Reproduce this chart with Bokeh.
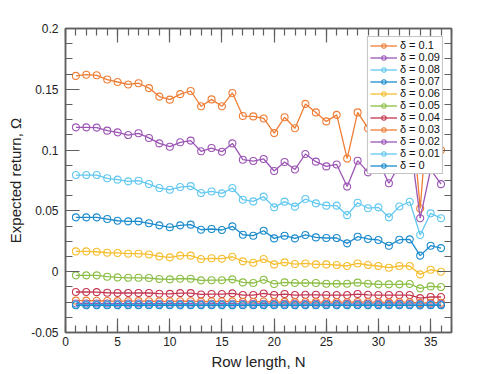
import numpy as np
from bokeh.plotting import figure
from bokeh.models import (Range1d, FixedTicker, LinearAxis, Legend, LegendItem,
                          CustomJSTickFormatter, ColumnDataSource)
from bokeh.embed import file_html
from bokeh.resources import INLINE

# ---------------- data ----------------
row_length = list(range(1, 37))

omega_d010 = [0.161, 0.162, 0.1615, 0.158, 0.156, 0.154, 0.155, 0.151, 0.144, 0.1415, 0.146, 0.1486,
              0.136, 0.1417, 0.136, 0.147, 0.128, 0.1277, 0.126, 0.114, 0.127, 0.118, 0.138, 0.131,
              0.1236, 0.129, 0.093, 0.131, 0.118, 0.112, 0.125, 0.108, 0.150, 0.052, 0.160, 0.100]
omega_d009 = [0.1187, 0.1187, 0.1185, 0.116, 0.1146, 0.1124, 0.1138, 0.110, 0.1055, 0.1028, 0.1064, 0.1078,
              0.099, 0.1017, 0.0987, 0.1055, 0.0921, 0.091, 0.0927, 0.0828, 0.0902, 0.0841, 0.0968, 0.0905,
              0.0866, 0.0882, 0.070, 0.0913, 0.0817, 0.0905, 0.0727, 0.0874, 0.110, 0.044, 0.084, 0.072]
omega_d008 = [0.0795, 0.0795, 0.0795, 0.0768, 0.0757, 0.0743, 0.0748, 0.0721, 0.0688, 0.0674, 0.0696, 0.0704,
              0.0647, 0.066, 0.0644, 0.0688, 0.0592, 0.0578, 0.0617, 0.0529, 0.0576, 0.0535, 0.0598, 0.0562,
              0.0543, 0.0543, 0.0465, 0.0567, 0.0522, 0.0529, 0.0447, 0.0536, 0.0575, 0.0302, 0.048, 0.044]
omega_d007 = [0.0447, 0.0447, 0.0447, 0.0433, 0.0419, 0.0414, 0.0414, 0.0398, 0.0381, 0.0365, 0.0381, 0.0387,
              0.0345, 0.0351, 0.0343, 0.0373, 0.0304, 0.0296, 0.0337, 0.0274, 0.0296, 0.0274, 0.0302, 0.0282,
              0.0277, 0.0277, 0.0233, 0.0288, 0.0269, 0.0261, 0.0214, 0.0263, 0.0266, 0.0132, 0.0214, 0.0194]
omega_d006 = [0.0167, 0.0167, 0.0164, 0.0156, 0.0154, 0.0148, 0.0148, 0.0142, 0.0126, 0.0118, 0.0132, 0.0132,
              0.0104, 0.011, 0.0107, 0.0123, 0.0085, 0.0074, 0.0104, 0.006, 0.0077, 0.0063, 0.0068, 0.006,
              0.006, 0.0055, 0.0047, 0.0068, 0.0055, 0.0047, 0.0033, 0.0047, 0.0047, -0.0022, 0.0016, 0.0]
omega_d005 = [-0.003, -0.003, -0.003, -0.0041, -0.0047, -0.005, -0.005, -0.0052, -0.006, -0.0063, -0.0058, -0.0058,
              -0.0071, -0.007, -0.007, -0.0063, -0.0088, -0.0093, -0.0066, -0.0101, -0.0088, -0.0093, -0.0093, -0.0093,
              -0.0099, -0.0099, -0.0099, -0.009, -0.0099, -0.0104, -0.0104, -0.0104, -0.0101, -0.0137, -0.0121, -0.0126]
omega_d004 = [-0.0167, -0.0167, -0.0168, -0.0173, -0.0175, -0.0175, -0.0175, -0.0175, -0.0181, -0.0182, -0.0176, -0.0176,
              -0.0187, -0.0184, -0.0184, -0.0178, -0.0192, -0.0192, -0.0179, -0.0192, -0.0184, -0.0192, -0.019, -0.019,
              -0.0192, -0.0192, -0.0192, -0.0184, -0.019, -0.0192, -0.0192, -0.0192, -0.0192, -0.0217, -0.0208, -0.0208]
omega_d003 = [-0.0238, -0.0238, -0.0239, -0.0241, -0.0242, -0.0242, -0.0242, -0.0243, -0.0244, -0.0245, -0.0243, -0.0243,
              -0.0246, -0.0245, -0.0245, -0.0244, -0.0248, -0.0249, -0.0245, -0.025, -0.0248, -0.025, -0.0249, -0.025,
              -0.025, -0.025, -0.0251, -0.0249, -0.025, -0.0251, -0.0252, -0.0251, -0.0251, -0.0258, -0.0255, -0.0255]
omega_d002 = [-0.0261, -0.0261, -0.0261, -0.0262, -0.0262, -0.0262, -0.0262, -0.0263, -0.0263, -0.0263, -0.0263, -0.0263,
              -0.0264, -0.0263, -0.0263, -0.0263, -0.0264, -0.0264, -0.0263, -0.0264, -0.0264, -0.0264, -0.0264, -0.0264,
              -0.0264, -0.0264, -0.0265, -0.0264, -0.0264, -0.0265, -0.0265, -0.0265, -0.0265, -0.0267, -0.0266, -0.0266]
omega_d001 = [-0.0270, -0.0270, -0.0270, -0.0270, -0.0271, -0.0271, -0.0271, -0.0271, -0.0271, -0.0271, -0.0271, -0.0271,
              -0.0272, -0.0271, -0.0271, -0.0271, -0.0272, -0.0272, -0.0271, -0.0272, -0.0272, -0.0272, -0.0272, -0.0272,
              -0.0272, -0.0272, -0.0272, -0.0272, -0.0272, -0.0272, -0.0272, -0.0272, -0.0272, -0.0273, -0.0273, -0.0273]
omega_d000 = [-0.0276, -0.0276, -0.0276, -0.0276, -0.0276, -0.0276, -0.0276, -0.0276, -0.0276, -0.0276, -0.0276, -0.0276,
              -0.0276, -0.0276, -0.0276, -0.0276, -0.0276, -0.0276, -0.0276, -0.0276, -0.0276, -0.0276, -0.0276, -0.0276,
              -0.0276, -0.0276, -0.0276, -0.0276, -0.0276, -0.0276, -0.0276, -0.0276, -0.0276, -0.0277, -0.0276, -0.0276]

delta_labels = ["δ = 0.1", "δ = 0.09", "δ = 0.08", "δ = 0.07", "δ = 0.06", "δ = 0.05",
                "δ = 0.04", "δ = 0.03", "δ = 0.02", "δ = 0.01", "δ = 0"]
series = [omega_d010, omega_d009, omega_d008, omega_d007, omega_d006, omega_d005,
          omega_d004, omega_d003, omega_d002, omega_d001, omega_d000]
colors = ["#EE7E36", "#9C55B4", "#62C8F0", "#1C8BCC", "#F6BE30", "#8BBE45",
          "#C43650", "#EE7E36", "#9C55B4", "#62C8F0", "#1C8BCC"]

x_ticks = [0, 5, 10, 15, 20, 25, 30, 35]
x_tick_labels = ["0", "5", "10", "15", "20", "25", "30", "35"]
y_ticks = [-0.05, 0.0, 0.05, 0.1, 0.15, 0.2]
y_tick_labels = ["-0.05", "0", "0.05", "0.1", "0.15", "0.2"]

# ---------------- figure ----------------
FONT = "Liberation Sans"
AX_COL = "#5f5f5f"

p = figure(x_range=Range1d(0, 37), y_range=Range1d(-0.05, 0.2),
           frame_width=386, frame_height=304,
           output_backend="svg", toolbar_location=None,
           min_border_left=65, min_border_top=28, min_border_right=30, min_border_bottom=40)
p.background_fill_color = "white"
p.border_fill_color = "white"
p.xgrid.visible = False
p.ygrid.visible = False
p.outline_line_color = AX_COL
p.outline_line_width = 1.5

x_minor = list(np.arange(0, 38, 1))
y_minor = list(np.linspace(-0.05, 0.2, 21))
xt = FixedTicker(ticks=x_ticks, minor_ticks=x_minor)
yt = FixedTicker(ticks=y_ticks, minor_ticks=y_minor)

def style_axis(ax):
    ax.axis_line_color = AX_COL
    ax.axis_line_width = 1.5
    ax.major_tick_line_color = AX_COL
    ax.minor_tick_line_color = AX_COL
    ax.major_tick_line_width = 1.2
    ax.minor_tick_line_width = 1.2
    ax.major_tick_in = 14
    ax.major_tick_out = 0
    ax.minor_tick_in = 7
    ax.minor_tick_out = 0
    ax.major_label_text_font = FONT
    ax.major_label_text_font_size = "12px"
    ax.major_label_text_color = "#222222"
    ax.axis_label_text_font = FONT
    ax.axis_label_text_font_size = "15px"
    ax.axis_label_text_font_style = "normal"
    ax.axis_label_text_color = "#222222"

xa = p.xaxis[0]
xa.ticker = xt
xa.major_label_overrides = {t: l for t, l in zip(x_ticks, x_tick_labels)}
xa.axis_label = "Row length, N"
style_axis(xa)
xa.major_label_standoff = 4
xa.axis_label_standoff = 4

ya = p.yaxis[0]
ya.ticker = yt
ya.major_label_overrides = {t: l for t, l in zip(y_ticks, y_tick_labels)}
ya.axis_label = "Expected return, Ω"
style_axis(ya)
ya.major_label_standoff = 7
ya.axis_label_standoff = 4

blank = CustomJSTickFormatter(code="return ''")
top = LinearAxis(ticker=xt, formatter=blank)
right = LinearAxis(ticker=yt, formatter=blank)
for ax in (top, right):
    style_axis(ax)
    ax.major_label_standoff = 0
p.add_layout(top, "above")
p.add_layout(right, "right")

items = []
for lab, ys, col in zip(delta_labels, series, colors):
    src = ColumnDataSource(dict(x=row_length, y=ys))
    ln = p.line("x", "y", source=src, line_color=col, line_width=1.3)
    sc = p.scatter("x", "y", source=src, marker="circle", size=7,
                   fill_color=None, line_color=col, line_width=1.1)
    items.append(LegendItem(label=lab, renderers=[ln, sc]))

legend = Legend(items=items, location="top_right")
legend.margin = 8
legend.padding = 2
legend.spacing = 0
legend.glyph_width = 27
legend.glyph_height = 11
legend.label_height = 11
legend.label_standoff = 3
legend.label_text_font = FONT
legend.label_text_font_size = "11px"
legend.label_text_line_height = 1.0
legend.label_text_color = "#111111"
legend.border_line_color = "#8a8a8a"
legend.border_line_width = 1
legend.background_fill_color = "white"
legend.background_fill_alpha = 1.0
p.add_layout(legend, "center")

open("out.html", "w").write(file_html(p, INLINE))
